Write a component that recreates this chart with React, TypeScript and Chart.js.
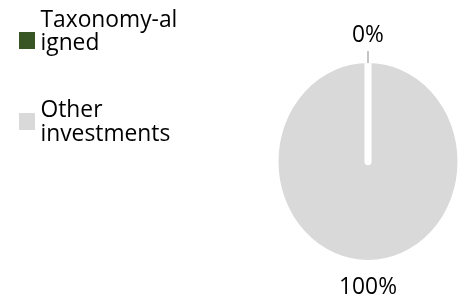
import { useEffect, useRef } from "react";
import { Chart, registerables } from "chart.js";

Chart.register(...registerables);

const categories: string[][] = [["Taxonomy-al", "igned"], ["Other", "investments"]];
const values: number[] = [0, 100];
const valueLabels: string[] = ["0%", "100%"];
const colors: string[] = ["#375623", "#d9d9d9"];

const FONT_FAMILY = "'Open Sans', 'Liberation Sans', sans-serif";
const FONT_SIZE = 22.8;
const CAP = 0.714 * FONT_SIZE;
const SY = 1.1;

const ellipsePlugin = {
  id: "ellipse",
  beforeDatasetsDraw(chart: any) {
    const arc = chart.getDatasetMeta(0).data[0];
    const ctx = chart.ctx;
    ctx.save();
    ctx.translate(arc.x, arc.y);
    ctx.scale(1, SY);
    ctx.translate(-arc.x, -arc.y);
  },
  afterDatasetsDraw(chart: any) {
    chart.ctx.restore();
  },
};

const labelsPlugin = {
  id: "sliceLabels",
  afterDraw(chart: any) {
    const ctx = chart.ctx;
    const meta = chart.getDatasetMeta(0);
    const bw = chart.data.datasets[0].borderWidth || 0;
    ctx.save();
    ctx.font = `${FONT_SIZE}px ${FONT_FAMILY}`;
    ctx.fillStyle = "#000000";
    ctx.textAlign = "center";
    ctx.textBaseline = "alphabetic";
    meta.data.forEach((arc: any, i: number) => {
      const mid = (arc.startAngle + arc.endAngle) / 2;
      const r = arc.outerRadius - bw / 2;
      const ex = arc.x + Math.cos(mid) * r;
      const ey = arc.y + Math.sin(mid) * r * SY;
      const v = chart.data.datasets[0].data[i];
      const leader = v < 5;
      const dist = leader ? 29.5 : 26;
      const tx = ex + Math.cos(mid) * dist;
      const ty = ey + Math.sin(mid) * dist + CAP / 2;
      if (leader) {
        ctx.save();
        ctx.strokeStyle = "#a6a6a6";
        ctx.lineWidth = 1.3;
        ctx.beginPath();
        ctx.moveTo(ex, ey);
        ctx.lineTo(ex + Math.cos(mid) * 12, ey + Math.sin(mid) * 12);
        ctx.stroke();
        ctx.restore();
      }
      ctx.fillText(valueLabels[i], tx, ty);
    });
    ctx.restore();
  },
};

const legendPlugin = {
  id: "sideLegend",
  afterDraw(chart: any) {
    const ctx = chart.ctx;
    const labels = chart.data.labels as string[][];
    const bg = chart.data.datasets[0].backgroundColor as string[];
    const firstBaselines = [26.5, 117];
    const squareTops = [32, 113];
    const lineH = 23.5;
    ctx.save();
    ctx.font = `${FONT_SIZE}px ${FONT_FAMILY}`;
    ctx.textAlign = "left";
    ctx.textBaseline = "alphabetic";
    labels.forEach((lines, i) => {
      ctx.fillStyle = bg[i];
      ctx.fillRect(19, squareTops[i], 16, 17);
      ctx.fillStyle = "#000000";
      lines.forEach((ln, j) => {
        ctx.fillText(ln, 40.5, firstBaselines[i] + j * lineH);
      });
    });
    ctx.restore();
  },
};

export default function App() {
  const ref = useRef<HTMLCanvasElement>(null);
  useEffect(() => {
    document.body.style.margin = "0";
    const chart = new Chart(ref.current!, {
      type: "pie",
      data: {
        labels: categories as any,
        datasets: [
          {
            data: values,
            backgroundColor: colors,
            borderColor: "#ffffff",
            borderWidth: 7,
            borderJoinStyle: "round",
          } as any,
        ],
      },
      options: {
        responsive: false,
        animation: false,
        events: [],
        layout: { padding: { left: 271.5, right: 2.5, top: 65, bottom: 41 } },
        plugins: {
          legend: { display: false },
          tooltip: { enabled: false },
        },
      },
      plugins: [ellipsePlugin, labelsPlugin, legendPlugin],
    });
    return () => chart.destroy();
  }, []);
  return (
    <div style={{ position: "fixed", left: 0, top: 0, width: 467, height: 299, background: "#ffffff" }}>
      <canvas ref={ref} width={467} height={299} />
    </div>
  );
}
